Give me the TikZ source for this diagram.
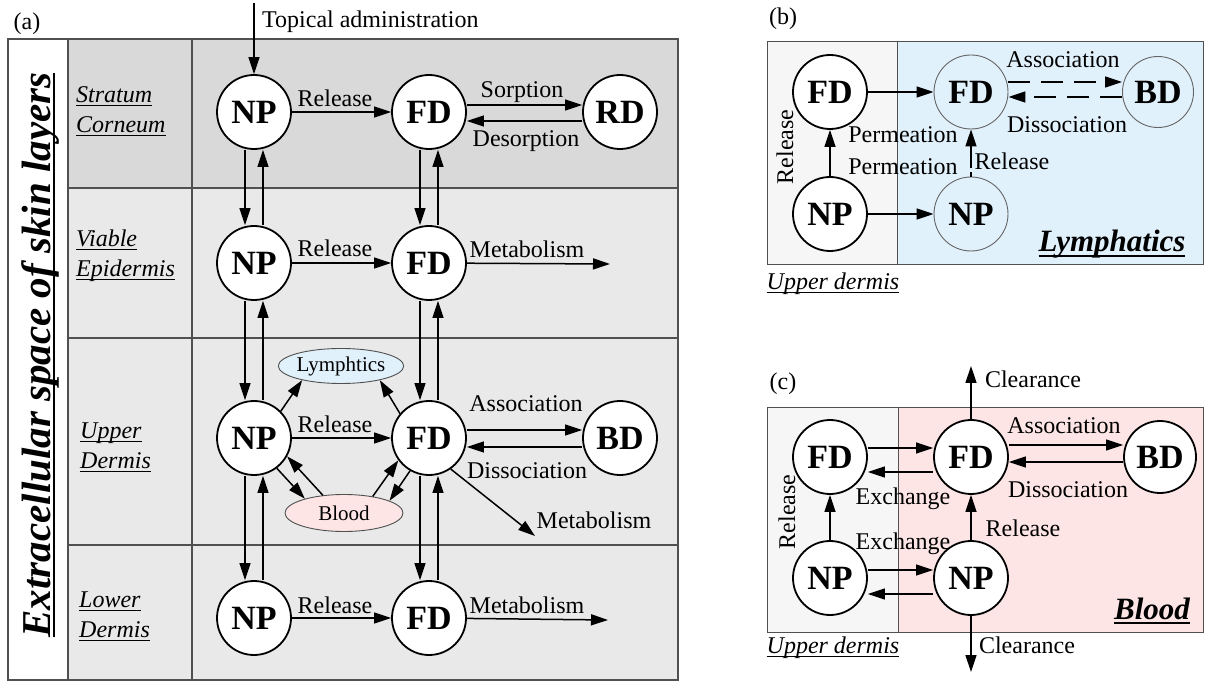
\documentclass[tikz,border=0pt]{standalone}
\usepackage{fontspec}
\setmainfont{Liberation Serif}
\usetikzlibrary{arrows.meta,shapes.geometric}
\definecolor{layerdark}{RGB}{217,217,217}
\definecolor{layerlight}{RGB}{233,233,233}
\definecolor{gridline}{RGB}{80,80,80}
\definecolor{dermisgray}{RGB}{246,246,246}
\definecolor{lymphblue}{RGB}{225,241,252}
\definecolor{bloodpink}{RGB}{253,229,229}
\definecolor{ghostline}{RGB}{100,100,100}
\newcommand{\pxfont}[1]{\fontsize{#1}{#1}\selectfont}
\newsavebox{\ulbox}
\newcommand{\layerul}[1]{\sbox{\ulbox}{#1}\rlap{\rule[-3.5pt]{\wd\ulbox}{1pt}}\usebox{\ulbox}}
\newcommand{\titleul}[1]{\sbox{\ulbox}{#1}\rlap{\rule[-5pt]{\wd\ulbox}{2pt}}\usebox{\ulbox}}

\begin{document}
\begin{tikzpicture}[x=1pt,y=-1pt,
    pool/.style={circle,draw,line width=1.8pt,fill=white,minimum size=74pt,inner sep=0pt,font=\pxfont{34}\bfseries},
    ghost/.style={pool,draw=ghostline,line width=0.9pt,fill=none},
    compart/.style={ellipse,draw=gridline,line width=0.9pt,minimum width=118pt,minimum height=35pt,inner sep=0pt,font=\pxfont{21}},
    arr/.style={-{Triangle[length=17pt,width=11pt]},line width=1.5pt},
    dasharr/.style={arr,dash pattern=on 22pt off 11pt},
    lbl/.style={font=\pxfont{24},inner sep=0pt,anchor=base},
    layer/.style={font=\fontsize{24}{30}\selectfont\itshape,align=left,anchor=west,inner sep=0pt},
    region/.style={font=\pxfont{31}\bfseries\itshape,inner sep=0pt,anchor=base}]
    \useasboundingbox (0,0) rectangle (1205,684);

    % (a) layer table
    \fill[layerdark] (68,39) rectangle (678,188);
    \fill[layerlight] (68,188) rectangle (678,680);
    \draw[gridline,line width=1.2pt] (8,39) rectangle (678,680);
    \draw[gridline,line width=1.2pt] (68,39) -- (68,680) (192,39) -- (192,680);
    \foreach \yy in {188,338,545}
        \draw[gridline,line width=1.2pt] (68,\yy) -- (678,\yy);
    \node[lbl] at (27,30) {(a)};
    \node[font=\pxfont{41}\bfseries\itshape,rotate=90,anchor=base,inner sep=0pt] (title) at (50,355) {\titleul{Extracellular space of skin layers}};
    \node[layer] (sc) at (76,111) {\layerul{Stratum}\\\layerul{Corneum}};
    \node[layer] (ve) at (76,256) {\layerul{Viable}\\\layerul{Epidermis}};
    \node[layer] (ud) at (80,447) {\layerul{Upper}\\\layerul{Dermis}};
    \node[layer] (ld) at (79,616) {\layerul{Lower}\\\layerul{Dermis}};

    % (a) pools
    \node[pool] (np1) at (254,112) {NP};
    \node[pool] (fd1) at (429,112) {FD};
    \node[pool] (rd) at (620,112) {RD};
    \node[pool] (np2) at (254,263) {NP};
    \node[pool] (fd2) at (429,263) {FD};
    \node[pool] (np3) at (254,438) {NP};
    \node[pool] (fd3) at (429,438) {FD};
    \node[pool] (bd3) at (620,438) {BD};
    \node[pool] (np4) at (254,618) {NP};
    \node[pool] (fd4) at (429,618) {FD};
    \node[compart,fill=lymphblue] (lym) at (341,366) {Lymphtics};
    \node[compart,fill=bloodpink,minimum height=37pt] (blood) at (344,513) {Blood};

    % (a) transport
    \coordinate (topical) at (254,3);
    \draw[arr] (topical) -- (np1);
    \node[lbl,anchor=base west] at (262,28) {Topical administration};
    \foreach \a/\b in {np1/fd1,np2/fd2,np3/fd3,np4/fd4}
        \draw[arr] (\a) -- (\b);
    \foreach \u/\l in {np1/np2,np2/np3,np3/np4,fd1/fd2,fd2/fd3,fd3/fd4}{
        \draw[arr] ([xshift=-9pt]\u.south) -- ([xshift=-9pt]\l.north);
        \draw[arr] ([xshift=9pt]\l.north) -- ([xshift=9pt]\u.south);
    }
    \draw[arr] ([yshift=7pt]fd1.east) -- ([yshift=7pt]rd.west);
    \draw[arr] ([yshift=-9pt]rd.west) -- ([yshift=-9pt]fd1.east);
    \draw[arr] ([yshift=8pt]fd3.east) -- ([yshift=8pt]bd3.west);
    \draw[arr] ([yshift=-9pt]bd3.west) -- ([yshift=-9pt]fd3.east);
    \coordinate (met2) at (610,264);
    \coordinate (met3) at (535,536);
    \coordinate (met4) at (608,620);
    \draw[arr] (fd2) -- (met2);
    \draw[arr] (fd3.-55) -- (met3);
    \draw[arr] (fd4) -- (met4);
    \draw[arr] (np3.45) -- (lym.200);
    \draw[arr] (fd3.140) -- (lym.340);
    \draw[arr] (np3.307) -- (blood.160);
    \draw[arr] (blood.140) -- (np3.331);
    \draw[arr] (blood.30) -- (fd3.216);
    \draw[arr] (fd3.240) -- (blood.15);
    \node[lbl] at (335,107) {Release};
    \node[lbl] at (335,257) {Release};
    \node[lbl] at (335,432) {Release};
    \node[lbl] at (335,613) {Release};
    \node[lbl] at (522,98) {Sorption};
    \node[lbl] at (526,147) {Desorption};
    \node[lbl] at (527,258) {Metabolism};
    \node[lbl] at (526,412) {Association};
    \node[lbl] at (527,478) {Dissociation};
    \node[lbl] at (594,528) {Metabolism};
    \node[lbl] at (527,613) {Metabolism};

    % (b) lymphatics
    \fill[dermisgray] (767,42) rectangle (897,265);
    \fill[lymphblue] (897,42) rectangle (1203,265);
    \draw[gridline,line width=1pt] (767,42) rectangle (1203,265) (897,42) -- (897,265);
    \node[lbl] at (783,25) {(b)};
    \node[pool] (fdb1) at (830,92) {FD};
    \node[pool] (npb1) at (830,214) {NP};
    \node[ghost] (fdb2) at (971,92) {FD};
    \node[ghost] (npb2) at (971,214) {NP};
    \node[ghost,minimum size=71pt] (bdb) at (1158,92) {BD};
    \draw[arr] (fdb1) -- (fdb2);
    \draw[arr] (npb1) -- (npb2);
    \draw[arr] (npb1) -- (fdb1);
    \draw[arr,dash pattern=on 5pt off 4pt on 60pt off 4pt] (npb2) -- (fdb2);
    \draw[dasharr] ([yshift=10pt]fdb2.east) -- ([yshift=10pt]bdb.west);
    \draw[dasharr] ([yshift=-5pt]bdb.west) -- ([yshift=-5pt]fdb2.east);
    \node[lbl,rotate=90,anchor=center] at (785,147) {Release};
    \node[lbl] at (903,143) {Permeation};
    \node[lbl] at (903,175) {Permeation};
    \node[lbl] at (1012,170) {Release};
    \node[lbl] at (1063,68) {Association};
    \node[lbl] at (1067,133) {Dissociation};
    \node[region] at (1112,252) {\titleul{Lymphatics}};
    \node[lbl,font=\pxfont{24}\itshape] at (833,290) {\layerul{Upper dermis}};

    % (c) blood
    \fill[dermisgray] (767,408) rectangle (898,632);
    \fill[bloodpink] (898,408) rectangle (1203,632);
    \draw[gridline,line width=1pt] (767,408) rectangle (1203,632) (898,408) -- (898,632);
    \node[lbl] at (783,390) {(c)};
    \node[pool] (fdc1) at (830,457) {FD};
    \node[pool] (npc1) at (830,578) {NP};
    \node[pool] (fdc2) at (971,457) {FD};
    \node[pool] (npc2) at (971,578) {NP};
    \node[pool,minimum size=72pt] (bdc) at (1160,457) {BD};
    \draw[arr] ([yshift=9pt]fdc1.east) -- ([yshift=9pt]fdc2.west);
    \draw[arr] ([yshift=-15pt]fdc2.west) -- ([yshift=-15pt]fdc1.east);
    \draw[arr] ([yshift=8pt]npc1.east) -- ([yshift=8pt]npc2.west);
    \draw[arr] ([yshift=-16pt]npc2.west) -- ([yshift=-16pt]npc1.east);
    \draw[arr] ([yshift=12pt]fdc2.east) -- ([yshift=12pt]bdc.west);
    \draw[arr] ([yshift=-5pt]bdc.west) -- ([yshift=-5pt]fdc2.east);
    \draw[arr] (npc1) -- (fdc1);
    \draw[arr] (npc2) -- (fdc2);
    \coordinate (clrup) at (971,366);
    \coordinate (clrdown) at (971,672);
    \draw[arr] (fdc2) -- (clrup);
    \draw[arr] (npc2) -- (clrdown);
    \node[lbl] at (1033,388) {Clearance};
    \node[lbl] at (1064,434) {Association};
    \node[lbl] at (1068,497) {Dissociation};
    \node[lbl] at (903,504) {Exchange};
    \node[lbl] at (903,549) {Exchange};
    \node[lbl] at (1023,536) {Release};
    \node[lbl,rotate=90,anchor=center] at (787,512) {Release};
    \node[region] at (1152,619) {\titleul{Blood}};
    \node[lbl,font=\pxfont{24}\itshape] at (833,653) {\layerul{Upper dermis}};
    \node[lbl] at (1027,653) {Clearance};
\end{tikzpicture}
\end{document}
